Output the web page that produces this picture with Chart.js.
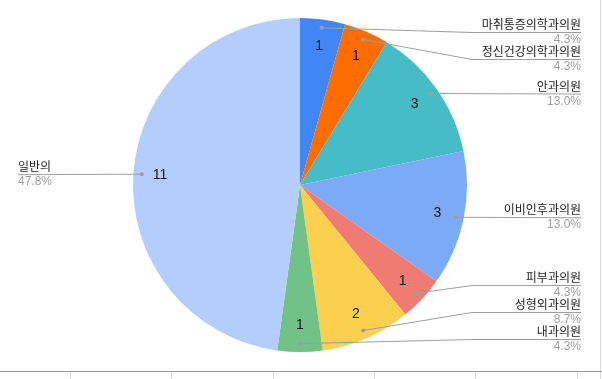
<!DOCTYPE html>
<html>
<head>
<meta charset="utf-8">
<script src="https://cdn.jsdelivr.net/npm/chart.js@4/dist/chart.umd.min.js"></script>
<style>
  body { margin: 0; background: #fff; }
  canvas { display: block; }
</style>
</head>
<body>
<canvas id="myChart" width="602" height="379"></canvas>
<script>
var categories = ['마취통증의학과의원', '정신건강의학과의원', '안과의원', '이비인후과의원', '피부과의원', '성형외과의원', '내과의원', '일반의'];
var counts = [1, 1, 3, 3, 1, 2, 1, 11];
var sliceColors = ['#4285F4', '#FF6D01', '#46BDC6', '#7BAAF7', '#F07B72', '#FCD04F', '#71C287', '#B3CEFB'];

var gray = '#9e9e9e';

// outside labels with leader lines, like the sheets pie
var sideLabels = {
    id: 'sideLabels',
    afterDatasetsDraw: function (chart) {
        var ctx = chart.ctx;
        var meta = chart.getDatasetMeta(0);
        var total = counts.reduce(function (a, b) { return a + b; }, 0);
        var right = [], left = [];

        ctx.save();
        meta.data.forEach(function (arc, i) {
            var p = arc.getProps(['x', 'y', 'startAngle', 'endAngle', 'outerRadius'], true);
            var mid = (p.startAngle + p.endAngle) / 2;
            var c = Math.cos(mid), s = Math.sin(mid);

            ctx.fillStyle = '#111';
            ctx.font = '14px "Liberation Sans", Arial, sans-serif';
            ctx.textAlign = 'center';
            ctx.textBaseline = 'middle';
            ctx.fillText(String(counts[i]), p.x + c * p.outerRadius * 0.84, p.y + s * p.outerRadius * 0.84);

            var dot = { x: p.x + c * p.outerRadius * 0.95, y: p.y + s * p.outerRadius * 0.95 };
            var item = { i: i, dot: dot, y: dot.y, cx: p.x, r: p.outerRadius };
            (c >= 0 ? right : left).push(item);
        });

        function spread(list) {
            list.sort(function (a, b) { return a.dot.y - b.dot.y; });
            var top = 32, bottom = 339, gap = 27;
            list.forEach(function (it, k) {
                it.y = Math.min(Math.max(it.y, top), bottom);
                if (k > 0) it.y = Math.max(it.y, list[k - 1].y + gap);
            });
            for (var k = list.length - 1; k >= 0; k--) {
                if (k === list.length - 1) it = list[k], it.y = Math.min(it.y, bottom);
                else list[k].y = Math.min(list[k].y, list[k + 1].y - gap);
            }
        }
        var it;
        spread(right);
        spread(left);

        function drawOne(it, side) {
            var endX = side > 0 ? 581 : 18;
            var elbowX = it.cx + side * (it.r + 5);
            ctx.strokeStyle = gray;
            ctx.lineWidth = 1;
            ctx.beginPath();
            ctx.moveTo(it.dot.x, it.dot.y);
            if (Math.abs(it.y - it.dot.y) > 1.5) ctx.lineTo(elbowX, it.y + 0.5);
            ctx.lineTo(endX, it.y + 0.5);
            ctx.stroke();

            ctx.fillStyle = gray;
            ctx.beginPath();
            ctx.arc(it.dot.x, it.dot.y, 2, 0, Math.PI * 2);
            ctx.fill();

            ctx.textAlign = side > 0 ? 'right' : 'left';
            ctx.textBaseline = 'alphabetic';
            ctx.fillStyle = '#222';
            ctx.font = '12px "Noto Sans CJK KR", sans-serif';
            ctx.fillText(categories[it.i], endX, it.y - 3);
            ctx.fillStyle = gray;
            ctx.font = '12px "Liberation Sans", Arial, sans-serif';
            ctx.fillText((counts[it.i] / total * 100).toFixed(1) + '%', endX, it.y + 11);
        }
        right.forEach(function (it) { drawOne(it, 1); });
        left.forEach(function (it) { drawOne(it, -1); });
        ctx.restore();
    },
    afterDraw: function (chart) {
        // sheet grid bits at the bottom and right edge
        var ctx = chart.ctx;
        ctx.save();
        ctx.strokeStyle = '#dadada';
        ctx.lineWidth = 1;
        ctx.beginPath();
        ctx.moveTo(600.5, 0);
        ctx.lineTo(600.5, 379);
        [70, 171, 273, 374, 475, 577].forEach(function (x) {
            ctx.moveTo(x + 0.5, 372);
            ctx.lineTo(x + 0.5, 379);
        });
        ctx.stroke();
        ctx.strokeStyle = gray;
        ctx.beginPath();
        ctx.moveTo(0, 371.5);
        ctx.lineTo(602, 371.5);
        ctx.stroke();
        ctx.restore();
    }
};

var myChart = new Chart(document.getElementById('myChart'), {
    type: 'pie',
    data: {
        labels: categories,
        datasets: [{
            data: counts,
            backgroundColor: sliceColors,
            borderWidth: 0
        }]
    },
    options: {
        responsive: false,
        devicePixelRatio: 1,
        animation: false,
        layout: { padding: { top: 18, bottom: 27, left: 0, right: 2 } },
        plugins: {
            legend: { display: false },
            tooltip: { enabled: false }
        }
    },
    plugins: [sideLabels]
});
</script>
</body>
</html>
